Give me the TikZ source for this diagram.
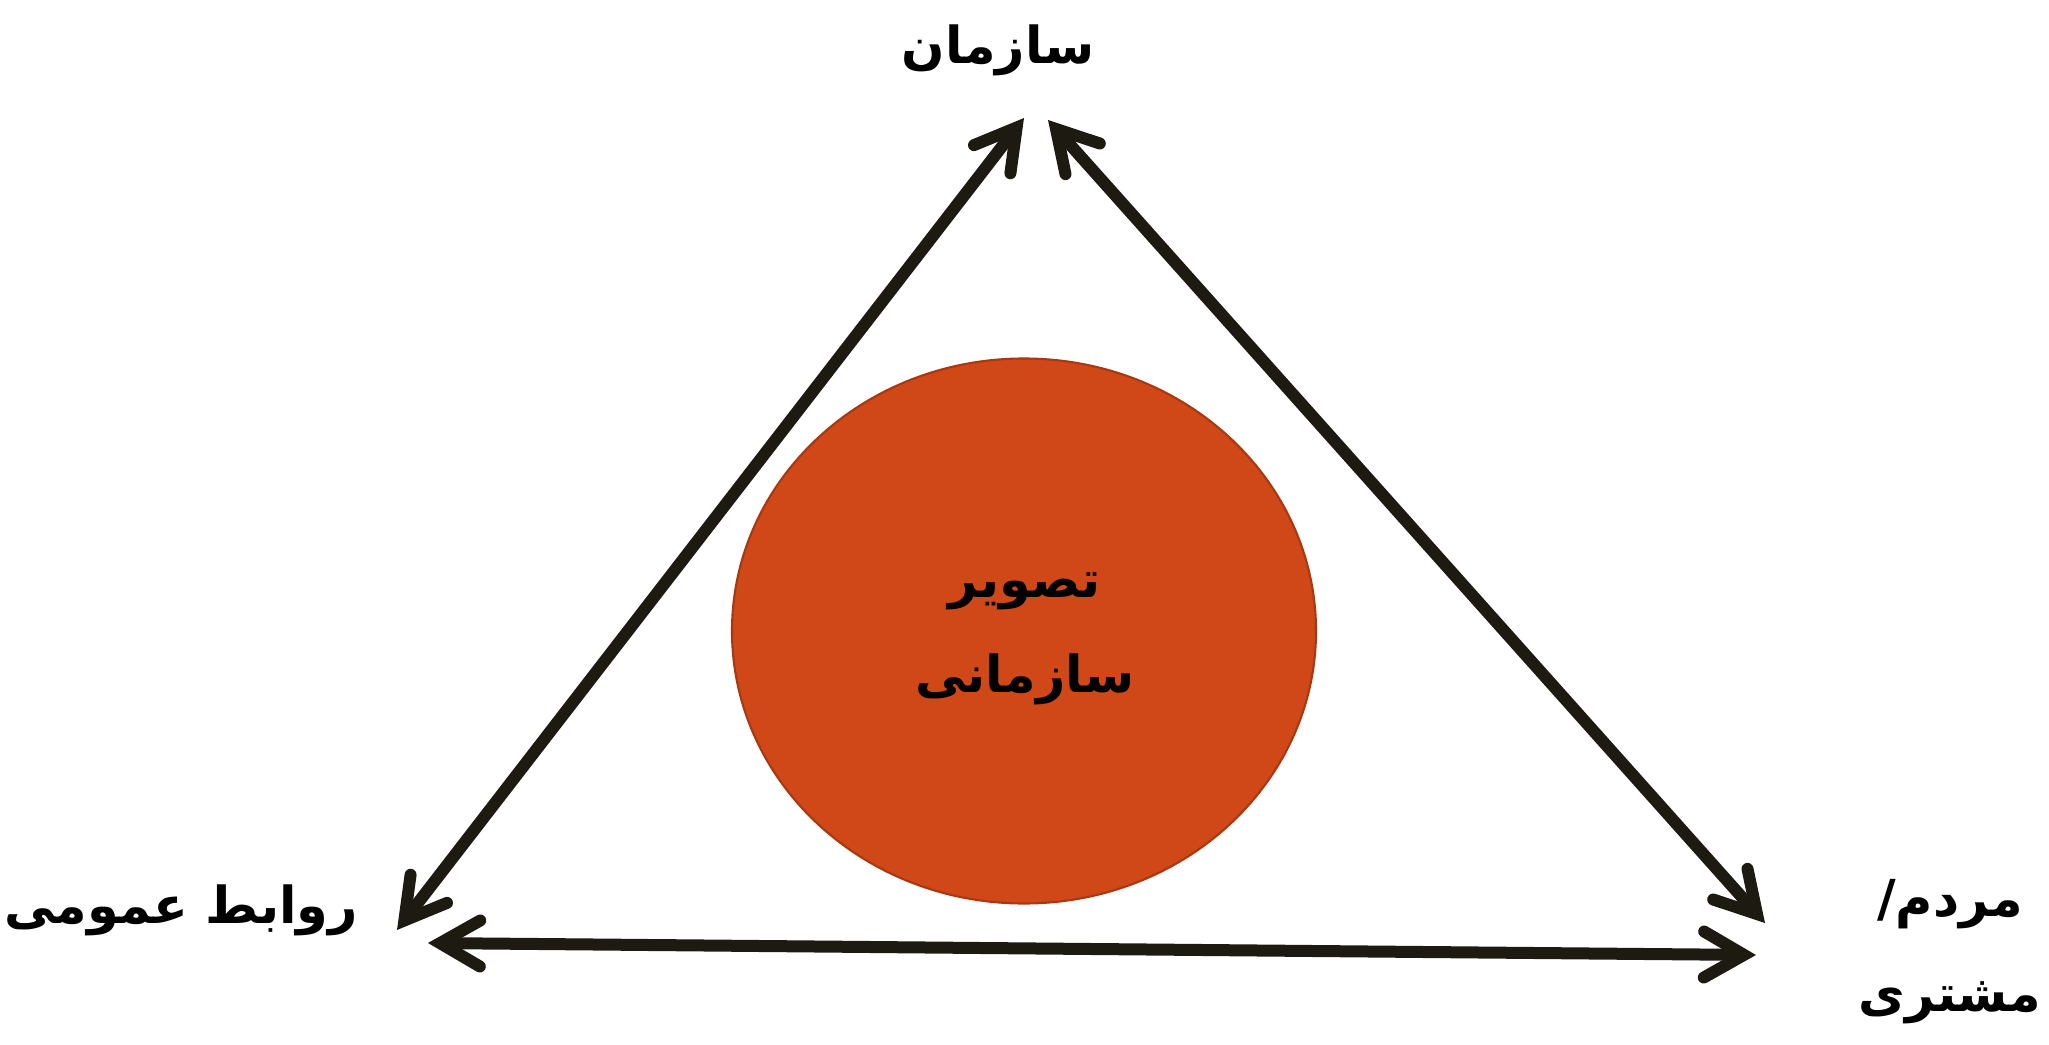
\documentclass[tikz,border=0pt]{standalone}
\usepackage{fontspec}
\usetikzlibrary{arrows.meta,shapes.geometric}
\TeXXeTstate=1
\newfontfamily\arabicfont[Script=Arabic,BoldFont={DejaVu Sans Bold}]{DejaVu Sans}
\definecolor{linecol}{HTML}{1D1A12}
\definecolor{orgfill}{HTML}{D04818}
\definecolor{orgedge}{HTML}{A8380F}
\tikzset{
  conn/.style={draw=linecol, line width=0.12cm, line cap=round,
    {Straight Barb[length=0.4cm,width=0.46cm,line cap=round,line join=miter]}-{Straight Barb[length=0.4cm,width=0.46cm,line cap=round,line join=miter]}},
  lbl/.style={font=\arabicfont\bfseries\fontsize{14.5}{27}\selectfont, inner sep=0pt, align=center},
  core/.style={ellipse, fill=orgfill, draw=orgedge, line width=0.6pt,
    minimum width=5.84cm, minimum height=5.45cm, inner sep=0pt}
}
\begin{document}
\begin{tikzpicture}
\useasboundingbox (0,0) rectangle (20.49,10.44);
\node[core] (img) at (10.24,4.13) {};
\node[lbl] (imgtext) at (10.25,4.05) {\beginR تصویر\endR\\\beginR سازمانی\endR};
\node[lbl] (org) at (9.98,9.94) {\beginR سازمان\endR};
\node[lbl] (pr) at (1.81,1.34) {\beginR روابط عمومی\endR};
\node[lbl] (cust) at (19.5,0.92) {\beginR مردم/\endR\\\beginR مشتری\endR};
\coordinate (t1) at (10.24,9.26);
\coordinate (b1) at (3.97,1.14);
\coordinate (t2) at (10.48,9.24);
\coordinate (b2) at (17.65,1.21);
\coordinate (l3) at (4.28,1.01);
\coordinate (r3) at (17.56,0.89);
\draw[conn] (b1) -- (t1);
\draw[conn] (t2) -- (b2);
\draw[conn] (l3) -- (r3);
\end{tikzpicture}
\end{document}
